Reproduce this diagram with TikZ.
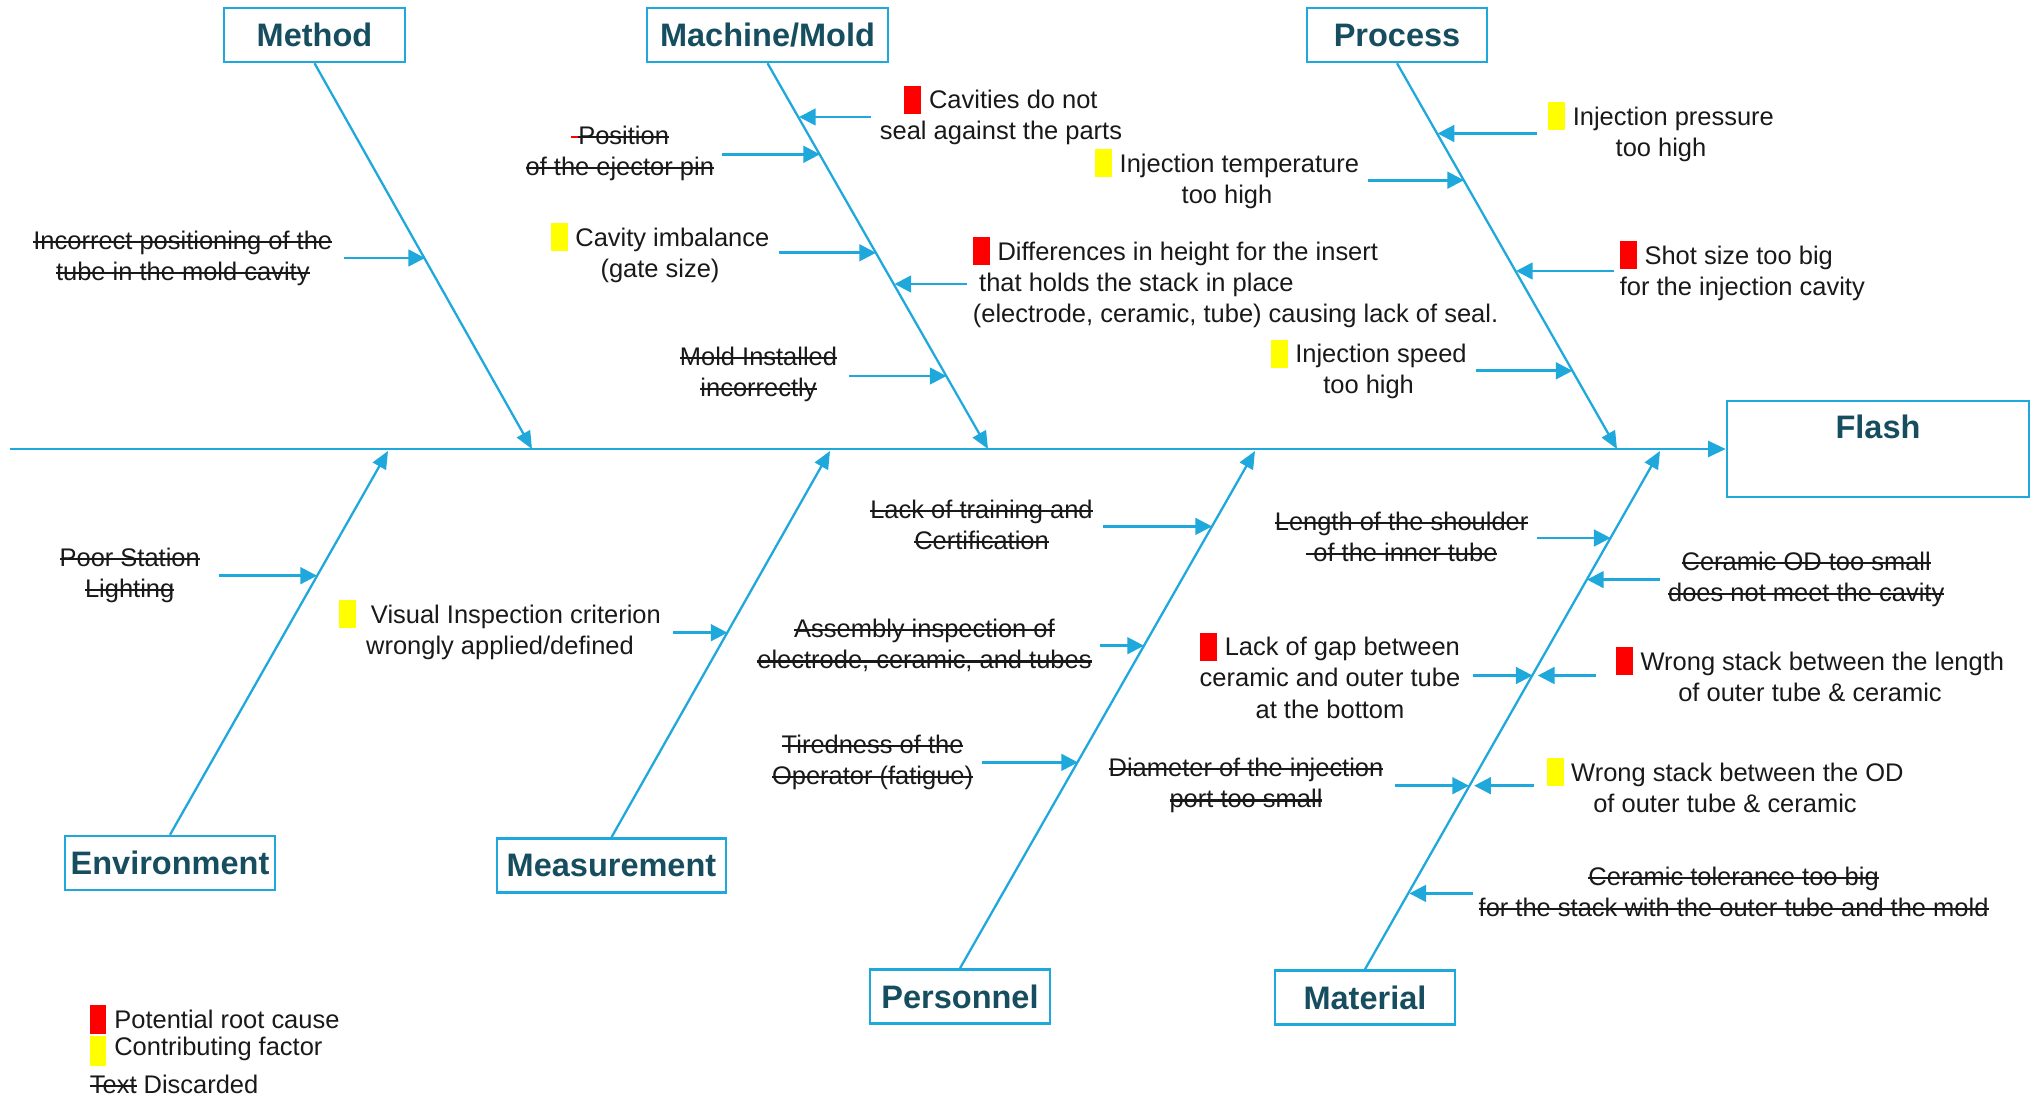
\documentclass[tikz,border=0pt]{standalone}
\usepackage{fontspec}
\setmainfont{Liberation Sans}
\usetikzlibrary{arrows.meta}

\definecolor{lineblue}{RGB}{30,168,220}
\definecolor{titleteal}{RGB}{22,78,96}
\definecolor{rootred}{RGB}{255,0,0}
\definecolor{contribyellow}{RGB}{255,255,0}
\definecolor{inkgray}{RGB}{25,25,25}

\newsavebox{\gonebox}
\newcommand{\gone}[1]{\sbox{\gonebox}{#1}\rlap{\rule[0.47ex]{\wd\gonebox}{1.2pt}}\usebox{\gonebox}}
\newcommand{\rootmark}{{\color{rootred}\rule[-0.19em]{0.67em}{1.1em}}\hspace{0.3em}}
\newcommand{\contribmark}{{\color{contribyellow}\rule[-0.19em]{0.67em}{1.1em}}\hspace{0.3em}}

\begin{document}
\begin{tikzpicture}[x=0.02cm, y=-0.02cm,
  every node/.style={inner sep=0pt, text=inkgray, font=\fontsize{14.5}{17.7}\selectfont},
  titlebox/.style={draw=lineblue, line width=1.4pt, minimum height=1.08cm, text=titleteal,
    font=\fontsize{18.5}{22}\selectfont\bfseries},
  spine/.style={draw=lineblue, line width=1.5pt, -{Triangle[length=10pt, width=9pt]}},
  bone/.style={draw=lineblue, line width=1.3pt, -{Triangle[length=10pt, width=8.5pt]}},
  cause/.style={draw=lineblue, line width=1.5pt, -{Triangle[length=9.5pt, width=9.5pt]}},
  note/.style={align=center}]
  \useasboundingbox (0,0) rectangle (2033,1095);

  % Category boxes
  \node[titlebox, minimum width=3.62cm] (method) at (314.5,35) {Method};
  \node[titlebox, minimum width=4.82cm] (machine) at (767.5,35) {Machine/Mold};
  \node[titlebox, minimum width=3.6cm] (process) at (1397,35) {Process};
  \node[titlebox, minimum width=4.2cm] (environment) at (170,863) {Environment};
  \node[titlebox, minimum width=4.58cm] (measurement) at (611.5,865.5) {Measurement};
  \node[titlebox, minimum width=3.6cm] (personnel) at (960,996.5) {Personnel};
  \node[titlebox, minimum width=3.6cm] (material) at (1365,997.5) {Material};

  % Effect
  \node[titlebox, minimum width=6.04cm, minimum height=1.92cm] (flash) at (1878,449) {};
  \node[titlebox, draw=none] (flashtext) at (1878,427) {Flash};

  % Spine
  \coordinate (spinetail) at (10,449);
  \draw[spine] (spinetail) -- (flash.west);

  % Bones
  \coordinate (methodhead) at (532,449);
  \coordinate (machinehead) at (988,449);
  \coordinate (processhead) at (1617,449);
  \coordinate (environmenthead) at (388,451);
  \coordinate (measurementhead) at (830,451);
  \coordinate (personnelhead) at (1255,451);
  \coordinate (materialhead) at (1660,451);
  \draw[bone] (method.south) -- (methodhead);
  \draw[bone] (machine.south) -- (machinehead);
  \draw[bone] (process.south) -- (processhead);
  \draw[bone] (environment.north) -- (environmenthead);
  \draw[bone] (measurement.north) -- (measurementhead);
  \draw[bone] (personnel.north) -- (personnelhead);
  \draw[bone] (material.north) -- (materialhead);

  % Method
  \node[note] (meth1) at (182.8,258) {\gone{Incorrect positioning of the}\\\gone{tube in the mold cavity}};
  \coordinate (meth1a) at (343.6,258); \coordinate (meth1b) at (425,258);
  \draw[cause] (meth1a) -- (meth1b);

  % Machine/Mold
  \node[note] (mach1) at (1001,115.4) {\rootmark Cavities do not\\seal against the parts};
  \coordinate (mach1a) at (871,117); \coordinate (mach1b) at (799,117);
  \draw[cause] (mach1a) -- (mach1b);
  \node[note] (mach2) at (619.8,153) {{\color{rootred}\rule[0.47ex]{0.3em}{1.2pt}}\gone{Position}\\\gone{of the ejector pin}};
  \coordinate (mach2a) at (722,154.3); \coordinate (mach2b) at (820,154.3);
  \draw[cause] (mach2a) -- (mach2b);
  \node[note] (mach3) at (660,252.8) {\contribmark Cavity imbalance\\(gate size)};
  \coordinate (mach3a) at (779.3,252.8); \coordinate (mach3b) at (876,252.8);
  \draw[cause] (mach3a) -- (mach3b);
  \node[align=left, anchor=west] (mach4) at (972.5,282.7) {\rootmark Differences in height for the insert\\\hspace{0.25em}that holds the stack in place\\(electrode, ceramic, tube) causing lack of seal.};
  \coordinate (mach4a) at (967.3,284); \coordinate (mach4b) at (894.5,284);
  \draw[cause] (mach4a) -- (mach4b);
  \node[note] (mach5) at (758.5,374) {\gone{Mold Installed}\\\gone{incorrectly}};
  \coordinate (mach5a) at (849.3,376); \coordinate (mach5b) at (946.5,376);
  \draw[cause] (mach5a) -- (mach5b);

  % Process
  \node[note] (proc1) at (1661,132.2) {\contribmark Injection pressure\\too high};
  \coordinate (proc1a) at (1536.5,133.5); \coordinate (proc1b) at (1437.6,133.5);
  \draw[cause] (proc1a) -- (proc1b);
  \node[note] (proc2) at (1227,179) {\contribmark Injection temperature\\too high};
  \coordinate (proc2a) at (1368,180.2); \coordinate (proc2b) at (1464,180.2);
  \draw[cause] (proc2a) -- (proc2b);
  \node[align=left, anchor=west] (proc3) at (1619.5,271) {\rootmark Shot size too big\\for the injection cavity};
  \coordinate (proc3a) at (1614.3,271); \coordinate (proc3b) at (1516,271);
  \draw[cause] (proc3a) -- (proc3b);
  \node[note] (proc4) at (1368.6,369.5) {\contribmark Injection speed\\too high};
  \coordinate (proc4a) at (1475.5,370.8); \coordinate (proc4b) at (1572.5,370.8);
  \draw[cause] (proc4a) -- (proc4b);

  % Environment
  \node[note] (env1) at (129.7,575.6) {\gone{Poor Station}\\\gone{Lighting}};
  \coordinate (env1a) at (219,575.7); \coordinate (env1b) at (317,575.7);
  \draw[cause] (env1a) -- (env1b);

  % Measurement
  \node[note] (meas1) at (500,630) {\contribmark{} Visual Inspection criterion\\wrongly applied/defined};
  \coordinate (meas1a) at (673,632.7); \coordinate (meas1b) at (727.5,632.7);
  \draw[cause] (meas1a) -- (meas1b);

  % Personnel
  \node[note] (pers1) at (981.5,524.5) {\gone{Lack of training and}\\\gone{Certification}};
  \coordinate (pers1a) at (1103.4,526.4); \coordinate (pers1b) at (1212,526.4);
  \draw[cause] (pers1a) -- (pers1b);
  \node[note] (pers2) at (924.5,645.7) {\gone{Assembly inspection of}\\\gone{electrode, ceramic, and tubes}};
  \coordinate (pers2a) at (1099.5,645.7); \coordinate (pers2b) at (1144,645.7);
  \draw[cause] (pers2a) -- (pers2b);
  \node[note] (pers3) at (872.6,762.4) {\gone{Tiredness of the}\\\gone{Operator (fatigue)}};
  \coordinate (pers3a) at (981.5,762.4); \coordinate (pers3b) at (1078,762.4);
  \draw[cause] (pers3a) -- (pers3b);

  % Material
  \node[note] (mat1) at (1401.6,536.8) {\gone{Length of the shoulder}\\\gone{\hspace{0.3em}of the inner tube}};
  \coordinate (mat1a) at (1536.5,538); \coordinate (mat1b) at (1610.6,538);
  \draw[cause] (mat1a) -- (mat1b);
  \node[note] (mat2) at (1806.2,579.6) {\gone{Ceramic OD too small}\\\gone{does not meet the cavity}};
  \coordinate (mat2a) at (1659.6,579.6); \coordinate (mat2b) at (1587,579.6);
  \draw[cause] (mat2a) -- (mat2b);
  \node[note] (mat3) at (1330,675.5) {\rootmark Lack of gap between\\ceramic and outer tube\\at the bottom};
  \coordinate (mat3a) at (1473,675.5); \coordinate (mat3b) at (1532.6,675.5);
  \draw[cause] (mat3a) -- (mat3b);
  \node[note] (mat4) at (1810,674.2) {\rootmark Wrong stack between the length\\of outer tube \& ceramic};
  \coordinate (mat4a) at (1596.1,675.5); \coordinate (mat4b) at (1537.8,675.5);
  \draw[cause] (mat4a) -- (mat4b);
  \node[note] (mat5) at (1246,785.7) {\gone{Diameter of the injection}\\\gone{port too small}};
  \coordinate (mat5a) at (1395.1,785.7); \coordinate (mat5b) at (1469,785.7);
  \draw[cause] (mat5a) -- (mat5b);
  \node[note] (mat6) at (1725,785.7) {\contribmark Wrong stack between the OD\\of outer tube \& ceramic};
  \coordinate (mat6a) at (1533.9,785.7); \coordinate (mat6b) at (1474.2,785.7);
  \draw[cause] (mat6a) -- (mat6b);
  \node[note] (mat7) at (1733.6,892) {\gone{Ceramic tolerance too big}\\\gone{for the stack with the outer tube and the mold}};
  \coordinate (mat7a) at (1473,893.4); \coordinate (mat7b) at (1409.4,893.4);
  \draw[cause] (mat7a) -- (mat7b);

  % Legend
  \fill[rootred] (89.5,1005) rectangle (106.3,1034);
  \fill[contribyellow] (89.5,1036) rectangle (106.3,1066);
  \node[anchor=west] (legroot) at (114,1019) {Potential root cause};
  \node[anchor=west] (legcontrib) at (114,1049) {Contributing factor};
  \node[anchor=west] (legdiscard) at (89.5,1084) {\gone{Text} Discarded};
\end{tikzpicture}
\end{document}
